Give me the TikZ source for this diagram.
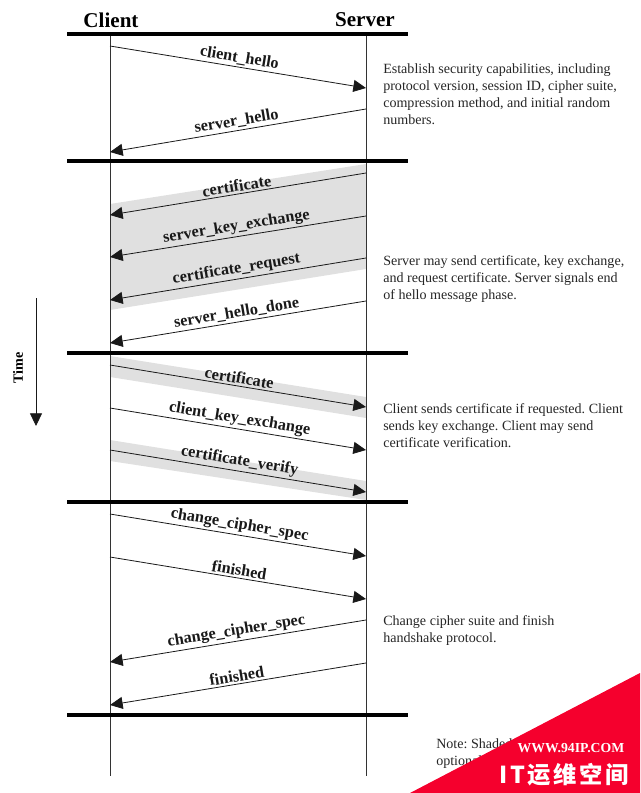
\documentclass[tikz,border=0pt]{standalone}
\usepackage{fontspec}
\setmainfont{Liberation Serif}
\newfontfamily\cjkfont[LetterSpace=11]{Noto Sans CJK SC}
\usetikzlibrary{arrows.meta}
\frenchspacing

\begin{document}
\begin{tikzpicture}[x=0.75pt, y=-0.75pt,
    >={Triangle[length=9.5pt, width=9pt]},
    phase/.style={line width=2.5pt},
    lifeline/.style={line width=0.7pt, black!80},
    msg/.style={->, line width=0.6pt, black!90},
    msglabel/.style={above, sloped, midway, inner sep=1.5pt, font=\fontsize{12.2}{14}\selectfont\bfseries},
    head/.style={font=\fontsize{15.8}{18}\selectfont\bfseries},
    remark/.style={anchor=west, align=left, inner sep=0pt, font=\fontsize{10.55}{12.8}\selectfont, black!85},
    shade/.style={fill=black!12, draw=none}]
    \useasboundingbox (0,0) rectangle (640,793);

    \coordinate (cTop) at (110,34);
    \coordinate (cEnd) at (110,776);
    \coordinate (sTop) at (366,34);
    \coordinate (sEnd) at (366,776);

    \coordinate (c1) at (110,46);    \coordinate (s1) at (366,88);
    \coordinate (c2) at (110,152);   \coordinate (s2) at (366,109);
    \coordinate (c3) at (110,215);   \coordinate (s3) at (366,173);
    \coordinate (c4) at (110,257);   \coordinate (s4) at (366,216);
    \coordinate (c5) at (110,300);   \coordinate (s5) at (366,258);
    \coordinate (c6) at (110,343);   \coordinate (s6) at (366,301);
    \coordinate (c7) at (110,365);   \coordinate (s7) at (366,407);
    \coordinate (c8) at (110,408);   \coordinate (s8) at (366,450);
    \coordinate (c9) at (110,450);   \coordinate (s9) at (366,492);
    \coordinate (c10) at (110,514);  \coordinate (s10) at (366,556);
    \coordinate (c11) at (110,557);  \coordinate (s11) at (366,599);
    \coordinate (c12) at (110,662);  \coordinate (s12) at (366,620);
    \coordinate (c13) at (110,705);  \coordinate (s13) at (366,663);

    \fill[shade] (110,204) -- (366,164) -- (366,269) -- (110,310) -- cycle;
    \fill[shade] (110,356) -- (366,397) -- (366,418) -- (110,377) -- cycle;
    \fill[shade] (110,440) -- (366,481) -- (366,500) -- (110,461) -- cycle;

    \draw[lifeline] (cTop) -- (cEnd);
    \draw[lifeline] (sTop) -- (sEnd);

    \coordinate (barA1) at (67,34);   \coordinate (barA2) at (408,34);
    \coordinate (barB1) at (67,161);  \coordinate (barB2) at (408,161);
    \coordinate (barC1) at (67,353);  \coordinate (barC2) at (408,353);
    \coordinate (barD1) at (67,502);  \coordinate (barD2) at (408,502);
    \coordinate (barE1) at (67,715);  \coordinate (barE2) at (408,715);
    \draw[phase] (barA1) -- (barA2);
    \draw[phase] (barB1) -- (barB2);
    \draw[phase] (barC1) -- (barC2);
    \draw[phase] (barD1) -- (barD2);
    \draw[phase] (barE1) -- (barE2);

    \node[head] (client) at (111,20) {Client};
    \node[head] (server) at (365,20) {Server};

    \draw[msg] (c1) -- node[msglabel]{client\_hello} (s1);
    \draw[msg] (s2) -- node[msglabel]{server\_hello} (c2);
    \draw[msg] (s3) -- node[msglabel]{certificate} (c3);
    \draw[msg] (s4) -- node[msglabel]{server\_key\_exchange} (c4);
    \draw[msg] (s5) -- node[msglabel]{certificate\_request} (c5);
    \draw[msg] (s6) -- node[msglabel]{server\_hello\_done} (c6);
    \draw[msg] (c7) -- node[msglabel]{certificate} (s7);
    \draw[msg] (c8) -- node[msglabel]{client\_key\_exchange} (s8);
    \draw[msg] (c9) -- node[msglabel]{certificate\_verify} (s9);
    \draw[msg] (c10) -- node[msglabel]{change\_cipher\_spec} (s10);
    \draw[msg] (c11) -- node[msglabel]{finished} (s11);
    \draw[msg] (s12) -- node[msglabel]{change\_cipher\_spec} (c12);
    \draw[msg] (s13) -- node[msglabel]{finished} (c13);

    \node[remark] (hello) at (383,94.5) {Establish security capabilities, including\\protocol version, session ID, cipher suite,\\compression method, and initial random\\numbers.};
    \node[remark] (srvnote) at (383,279) {Server may send certificate, key exchange,\\and request certificate. Server signals end\\of hello message phase.};
    \node[remark] (clinote) at (383,426) {Client sends certificate if requested. Client\\sends key exchange. Client may send\\certificate verification.};
    \node[remark] (finnote) at (383,630.5) {Change cipher suite and finish\\handshake protocol.};
    \node[remark] (shadenote) at (436,754) {Note: Shaded\\optional};

    \coordinate (timeA) at (36,298);
    \coordinate (timeB) at (36,426);
    \draw[msg] (timeA) -- (timeB);
    \node[rotate=90, font=\fontsize{10.6}{12}\selectfont\bfseries] (timelabel) at (18,368) {Time};

    \fill[fill={rgb,255:red,245;green,0;blue,45}] (410,793) -- (640,673) -- (640,793) -- cycle;
    \node[white, font=\fontsize{10.3}{12}\selectfont\bfseries] (site) at (571,748) {WWW.94IP.COM};
    \node[white, font=\fontsize{17.5}{19}\selectfont\cjkfont\bfseries] (brand) at (564,775) {IT运维空间};
\end{tikzpicture}
\end{document}
